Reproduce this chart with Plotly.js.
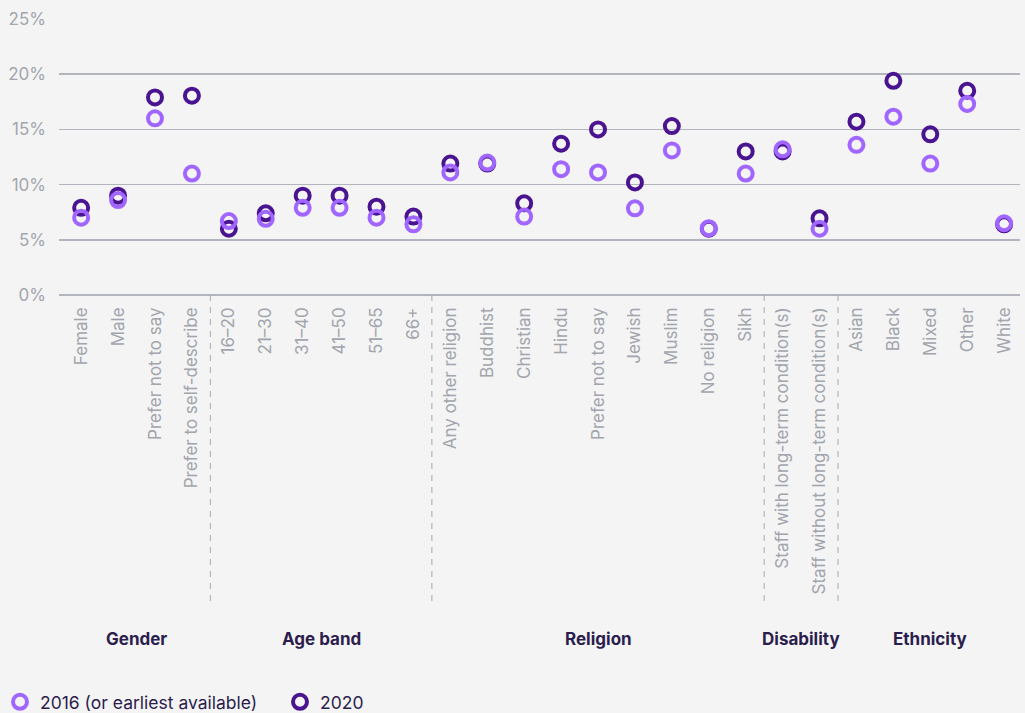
<!DOCTYPE html>
<html>
<head>
<meta charset="utf-8">
<script src="https://cdn.plot.ly/plotly-3.0.1.min.js"></script>
<style>html,body{margin:0;padding:0;background:#f4f4f4;}#chart{width:1025px;height:713px;}</style>
</head>
<body>
<div id="chart"></div>
<script>
const categories = ['Female','Male','Prefer not to say','Prefer to self-describe',
  '16\u201320','21\u201330','31\u201340','41\u201350','51\u201365','66+',
  'Any other religion','Buddhist','Christian','Hindu','Prefer not to say','Jewish','Muslim','No religion','Sikh',
  'Staff with long-term condition(s)','Staff without long-term condition(s)',
  'Asian','Black','Mixed','Other','White'];
const groups = ['Gender','Age band','Religion','Disability','Ethnicity'];
const groupSizes = [4,6,9,2,5];
const v2016 = [7.0,8.6,16.0,11.0, 6.7,6.9,7.9,7.9,7.0,6.4, 11.1,12.0,7.1,11.4,11.1,7.85,13.1,6.05,11.0, 13.2,6.0, 13.6,16.15,11.9,17.3,6.5];
const v2020 = [7.9,9.0,17.9,18.05, 6.0,7.4,9.0,9.0,8.0,7.1, 11.9,11.9,8.3,13.7,15.0,10.2,15.3,6.0,13.0, 13.0,6.95, 15.7,19.4,14.55,18.5,6.4];
const seriesNames = ['2016 (or earliest available)','2020'];
const colors = ['#a066ff','#4a1490'];

const idx = categories.map((_,i)=>i);
const markerBase = (c)=>({symbol:'circle-open', size:14, color:c, line:{width:4, color:c}});

const traces = [
  {x: idx, y: v2020, name: seriesNames[1], type:'scatter', mode:'markers', marker: markerBase(colors[1]), legendrank: 2, hoverinfo:'skip'},
  {x: idx, y: v2016, name: seriesNames[0], type:'scatter', mode:'markers', marker: markerBase(colors[0]), legendrank: 1, hoverinfo:'skip'}
];

const shapes = [];
const annotations = [];
let start = 0;
groups.forEach((g, gi) => {
  const end = start + groupSizes[gi] - 1;
  annotations.push({x:(start+end)/2, xref:'x', y:-1.245, yref:'paper', text:'<b>'+g+'</b>', showarrow:false,
    font:{family:'Inter, "Noto Sans", sans-serif', size:17, color:'#2b1d4d'}, xanchor:'center', yanchor:'middle'});
  if (gi < groups.length - 1) {
    shapes.push({type:'line', xref:'x', yref:'paper', x0:end+0.5, x1:end+0.5, y0:0, y1:-1.123,
      line:{color:'#a5a8b0', width:1, dash:'6px,6px'}});
  }
  start = end + 1;
});

const layout = {
  width:1025, height:713,
  paper_bgcolor:'#f4f4f4', plot_bgcolor:'#f4f4f4',
  margin:{l:59, r:5, t:19, b:418, autoexpand:false},
  font:{family:'Inter, "Noto Sans", sans-serif', color:'#a2a5ad', size:16},
  showlegend:true,
  legend:{orientation:'h', x:0, xref:'container', xanchor:'left', y:0.0155, yref:'container', yanchor:'middle',
    font:{size:17.5, color:'#2b1d4d'}, bgcolor:'rgba(0,0,0,0)', traceorder:'normal', entrywidth:235},
  xaxis:{range:[-0.6,25.43], tickvals:idx, ticktext:categories, tickangle:-90, showgrid:false, automargin:false,
    zeroline:false, showline:false, ticks:'', ticklabelstandoff:8, tickfont:{size:17, color:'#a2a5ad'}, fixedrange:true},
  yaxis:{range:[0,25], dtick:5, ticksuffix:'%', showgrid:true, gridcolor:'#b2b5bd', gridwidth:1.5, automargin:false,
    zeroline:true, zerolinecolor:'#b2b5bd', zerolinewidth:1.5, showline:false, ticks:'',
    ticklabelstandoff:12, tickfont:{size:17, color:'#a2a5ad'}, fixedrange:true},
  shapes: shapes,
  annotations: annotations
};

Plotly.newPlot('chart', traces, layout, {displayModeBar:false, staticPlot:true});
</script>
</body>
</html>
